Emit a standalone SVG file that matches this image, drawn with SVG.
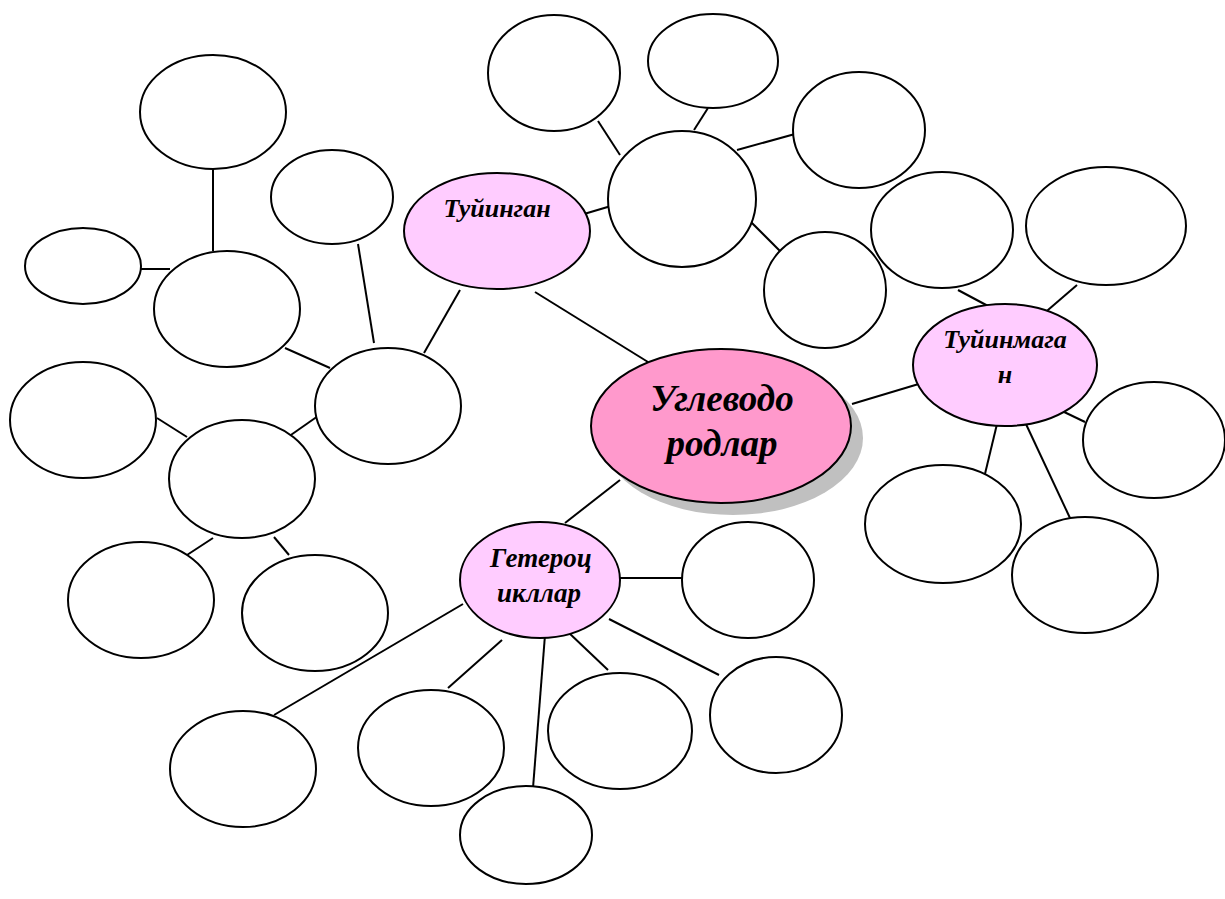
<svg xmlns="http://www.w3.org/2000/svg" width="1225" height="899" viewBox="0 0 1225 899">
<style>
.e{fill:#ffffff;stroke:#000;stroke-width:2}
.p{fill:#ffccff;stroke:#000;stroke-width:2}
.c{fill:#ff99cc;stroke:#000;stroke-width:2}
.l{stroke:#000;stroke-width:2;fill:none}
.t{font-family:"Liberation Serif",serif;font-weight:bold;font-style:italic;text-anchor:middle;fill:#000}
</style>
<rect width="1225" height="899" fill="#fff"/>
<g id="connectors">
<line class="l" x1="213" y1="168" x2="213" y2="251"/>
<line class="l" x1="141" y1="269" x2="170" y2="269"/>
<line class="l" x1="285" y1="348" x2="330" y2="368"/>
<line class="l" x1="358" y1="244" x2="374" y2="343"/>
<line class="l" x1="424" y1="353" x2="460" y2="290"/>
<line class="l" x1="318" y1="416" x2="288" y2="437"/>
<line class="l" x1="157" y1="418" x2="187" y2="437"/>
<line class="l" x1="187" y1="555" x2="213" y2="538"/>
<line class="l" x1="274" y1="537" x2="289" y2="555"/>
<line class="l" x1="535" y1="292" x2="648" y2="362"/>
<line class="l" x1="584" y1="214" x2="611" y2="206"/>
<line class="l" x1="598" y1="121" x2="620" y2="155"/>
<line class="l" x1="694" y1="130" x2="708" y2="108"/>
<line class="l" x1="737" y1="150" x2="795" y2="134"/>
<line class="l" x1="748" y1="219" x2="781" y2="252"/>
<line class="l" x1="852" y1="404" x2="922" y2="383"/>
<line class="l" x1="958" y1="290" x2="988" y2="306"/>
<line class="l" x1="1041" y1="316" x2="1077" y2="285"/>
<line class="l" x1="1060" y1="410" x2="1085" y2="422"/>
<line class="l" x1="997" y1="424" x2="984" y2="478"/>
<line class="l" x1="1025" y1="422" x2="1070" y2="518"/>
<line class="l" x1="620" y1="480" x2="565" y2="523"/>
<line class="l" x1="620" y1="578" x2="682" y2="578"/>
<line class="l" x1="609" y1="619" x2="719" y2="675"/>
<line class="l" x1="568" y1="632" x2="608" y2="670"/>
<line class="l" x1="545" y1="635" x2="533" y2="788"/>
<line class="l" x1="502" y1="640" x2="448" y2="688"/>
<line class="l" x1="463" y1="604" x2="274" y2="715"/>
</g>
<g id="n1"><ellipse class="e" cx="213" cy="112" rx="73" ry="57"/></g>
<g id="n2"><ellipse class="e" cx="83" cy="266" rx="58" ry="38"/></g>
<g id="n3"><ellipse class="e" cx="227" cy="309" rx="73" ry="58"/></g>
<g id="n4"><ellipse class="e" cx="332" cy="197" rx="61" ry="47"/></g>
<g id="n5"><ellipse class="e" cx="388" cy="406" rx="73" ry="58"/></g>
<g id="n6"><ellipse class="e" cx="83" cy="420" rx="73" ry="58"/></g>
<g id="n7"><ellipse class="e" cx="242" cy="479" rx="73" ry="59"/></g>
<g id="n8"><ellipse class="e" cx="141" cy="600" rx="73" ry="58"/></g>
<g id="n9"><ellipse class="e" cx="315" cy="613" rx="73" ry="58"/></g>
<g id="n10"><ellipse class="e" cx="554" cy="73" rx="66" ry="58"/></g>
<g id="n11"><ellipse class="e" cx="713" cy="61" rx="65" ry="47"/></g>
<g id="n12"><ellipse class="e" cx="682" cy="199" rx="74" ry="68"/></g>
<g id="n13"><ellipse class="e" cx="859" cy="130" rx="66" ry="58"/></g>
<g id="n14"><ellipse class="e" cx="825" cy="290" rx="61" ry="58"/></g>
<g id="n15"><ellipse class="e" cx="942" cy="230" rx="71" ry="58"/></g>
<g id="n16"><ellipse class="e" cx="1106" cy="226" rx="80" ry="59"/></g>
<g id="n17"><ellipse class="e" cx="1154" cy="440" rx="71" ry="58"/></g>
<g id="n18"><ellipse class="e" cx="943" cy="524" rx="78" ry="59"/></g>
<g id="n19"><ellipse class="e" cx="1085" cy="575" rx="73" ry="58"/></g>
<g id="n20"><ellipse class="e" cx="748" cy="580" rx="66" ry="58"/></g>
<g id="n21"><ellipse class="e" cx="776" cy="715" rx="66" ry="58"/></g>
<g id="n22"><ellipse class="e" cx="620" cy="731" rx="72" ry="58"/></g>
<g id="n23"><ellipse class="e" cx="431" cy="748" rx="73" ry="58"/></g>
<g id="n24"><ellipse class="e" cx="243" cy="769" rx="73" ry="58"/></g>
<g id="n25"><ellipse class="e" cx="526" cy="835" rx="66" ry="49"/></g>
<g id="tuyingan">
<ellipse class="p" cx="497" cy="231" rx="93" ry="58"/>
<text class="t" x="497" y="217" font-size="26">Туйинган</text>
</g>
<g id="tuyinmagan">
<ellipse class="p" cx="1005" cy="365" rx="92" ry="61"/>
<text class="t" x="1005" y="348" font-size="26">Туйинмага</text>
<text class="t" x="1005" y="383" font-size="26">н</text>
</g>
<g id="geterotsiklar">
<ellipse class="p" cx="540" cy="580" rx="80" ry="58"/>
<text class="t" x="541" y="567" font-size="27">Гетероц</text>
<text class="t" x="539" y="602" font-size="27">икллар</text>
</g>
<g id="center">
<ellipse cx="733" cy="438" rx="130" ry="77" fill="#c0c0c0"/>
<ellipse class="c" cx="721" cy="426" rx="130" ry="77"/>
<text class="t" x="722" y="411" font-size="37">Углеводо</text>
<text class="t" x="722" y="456" font-size="37">родлар</text>
</g>
</svg>
